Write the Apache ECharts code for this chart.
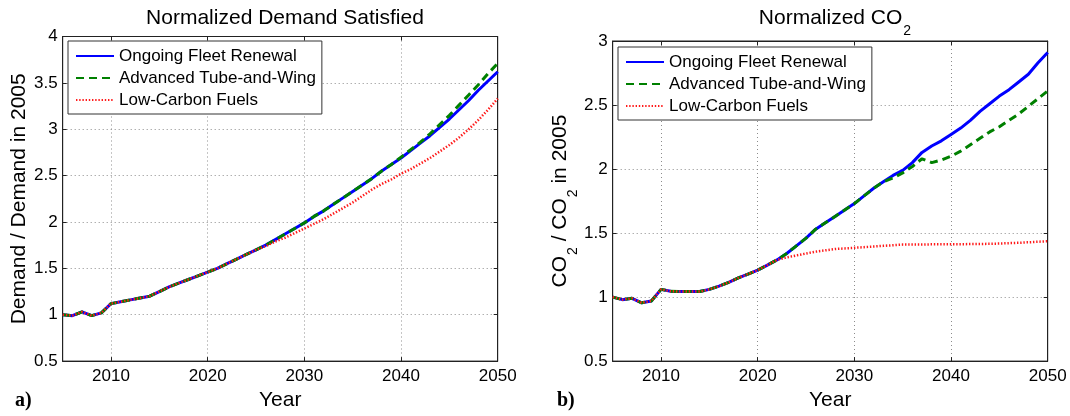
<!DOCTYPE html>
<html><head><meta charset="utf-8">
<script src="https://cdn.jsdelivr.net/npm/echarts@6/dist/echarts.min.js"></script>
<style>html,body{margin:0;padding:0;background:#fff}#c{width:1070px;height:416px}</style>
</head><body><div id="c"></div>
<script>
const years = [2005,2006,2007,2008,2009,2010,2011,2012,2013,2014,2015,2016,2017,2018,2019,2020,2021,2022,2023,2024,2025,2026,2027,2028,2029,2030,2031,2032,2033,2034,2035,2036,2037,2038,2039,2040,2041,2042,2043,2044,2045,2046,2047,2048,2049,2050];
const seriesNames = ['Ongoing Fleet Renewal', 'Advanced Tube-and-Wing', 'Low-Carbon Fuels'];

const demandOngoing = [1.00,0.99,1.03,0.99,1.02,1.12,1.14,1.16,1.18,1.20,1.25,1.30,1.34,1.38,1.42,1.46,1.50,1.55,1.60,1.65,1.70,1.75,1.81,1.87,1.93,1.99,2.06,2.12,2.19,2.26,2.33,2.40,2.47,2.55,2.62,2.69,2.77,2.85,2.93,3.02,3.11,3.21,3.31,3.42,3.52,3.62];
const demandTubeWing = [1.00,0.99,1.03,0.99,1.02,1.12,1.14,1.16,1.18,1.20,1.25,1.30,1.34,1.38,1.42,1.46,1.50,1.55,1.60,1.65,1.70,1.75,1.81,1.87,1.93,1.99,2.06,2.12,2.19,2.26,2.33,2.40,2.47,2.55,2.62,2.70,2.78,2.86,2.95,3.05,3.15,3.26,3.37,3.48,3.60,3.71];
const demandLowCarbon = [1.00,0.99,1.03,0.99,1.02,1.12,1.14,1.16,1.18,1.20,1.25,1.30,1.34,1.38,1.42,1.46,1.50,1.55,1.60,1.65,1.70,1.74,1.79,1.83,1.88,1.93,1.98,2.03,2.09,2.15,2.21,2.28,2.35,2.41,2.46,2.52,2.57,2.63,2.69,2.76,2.83,2.91,3.00,3.10,3.21,3.33];

const co2Ongoing = [1.00,0.98,0.99,0.955,0.97,1.06,1.045,1.043,1.043,1.043,1.06,1.085,1.115,1.15,1.18,1.21,1.25,1.29,1.34,1.40,1.46,1.53,1.58,1.63,1.68,1.73,1.79,1.85,1.90,1.95,1.99,2.05,2.13,2.18,2.22,2.27,2.32,2.38,2.45,2.51,2.57,2.62,2.68,2.74,2.83,2.91];
const co2TubeWing = [1.00,0.98,0.99,0.955,0.97,1.06,1.045,1.043,1.043,1.043,1.06,1.085,1.115,1.15,1.18,1.21,1.25,1.29,1.34,1.40,1.46,1.53,1.58,1.63,1.68,1.73,1.79,1.85,1.90,1.93,1.97,2.02,2.08,2.05,2.07,2.10,2.14,2.19,2.24,2.29,2.33,2.38,2.43,2.49,2.55,2.61];
const co2LowCarbon = [1.00,0.98,0.99,0.955,0.97,1.06,1.045,1.043,1.043,1.043,1.06,1.085,1.115,1.15,1.18,1.21,1.25,1.29,1.31,1.325,1.34,1.355,1.365,1.375,1.38,1.385,1.39,1.395,1.40,1.405,1.41,1.41,1.41,1.412,1.412,1.413,1.413,1.414,1.415,1.416,1.418,1.421,1.424,1.428,1.432,1.436];

const FONT = '"Liberation Sans", Arial, sans-serif';
const pairs = (vals) => years.map((y, i) => [y, vals[i]]);

const lineStyles = [
  { color: '#0000ff', width: 3, type: 'solid' },
  { color: '#008000', width: 3, type: [8, 5] },
  { color: '#ff1a1a', width: 2.5, type: [1.4, 1.8] }
];

function mkSeries(gi, arrs) {
  return arrs.map((a, k) => ({
    type: 'line', name: seriesNames[k], xAxisIndex: gi * 2, yAxisIndex: gi * 2,
    data: pairs(a), symbol: 'none', showSymbol: false, silent: true,
    lineStyle: lineStyles[k], itemStyle: { color: lineStyles[k].color }, z: 3 + k
  }));
}

function xAx(gi, main) {
  return {
    type: 'value', gridIndex: gi, min: 2005, max: 2050, splitNumber: 5,
    position: main ? 'bottom' : 'top',
    axisLine: { show: true, onZero: false, lineStyle: { color: '#222', width: 1 } },
    axisTick: { show: true, inside: true, length: 4, lineStyle: { color: '#222' } },
    axisLabel: { show: main, showMinLabel: false, fontSize: 17, color: '#000', fontFamily: FONT, margin: 7,
      formatter: (v) => String(v) },
    splitLine: { show: main, lineStyle: { color: '#8c8c8c', width: 1, type: [1, 3] } },
    name: main ? 'Year' : '', nameLocation: 'middle', nameGap: 21,
    nameTextStyle: { fontSize: 21, color: '#000', fontFamily: FONT }
  };
}
function yAx(gi, main, max, name) {
  return {
    type: 'value', gridIndex: gi, min: 0.5, max: max, interval: 0.5,
    position: main ? 'left' : 'right',
    axisLine: { show: true, onZero: false, lineStyle: { color: '#222', width: 1 } },
    axisTick: { show: true, inside: true, length: 4, lineStyle: { color: '#222' } },
    axisLabel: { show: main, fontSize: 17, color: '#000', fontFamily: FONT, margin: 5 },
    splitLine: { show: main, lineStyle: { color: '#8c8c8c', width: 1, type: [1, 3] } },
    name: main ? name : '', nameLocation: 'middle', nameGap: 30, nameRotate: 90,
    nameTextStyle: {
      fontSize: 21, color: '#000', fontFamily: FONT,
      rich: {
        b: { fontSize: 21, lineHeight: 24, verticalAlign: 'top', color: '#000', fontFamily: FONT },
        s: { fontSize: 14, lineHeight: 14, verticalAlign: 'top', padding: [16, 0, 0, 1], color: '#000', fontFamily: FONT }
      }
    }
  };
}

function mkLegend(left, top) {
  return {
    orient: 'vertical', left: left, top: top, padding: [4, 6, 3, 7], itemGap: 0,
    itemWidth: 38, itemHeight: 12, selectedMode: false,
    itemStyle: { opacity: 0, color: 'rgba(0,0,0,0)', borderWidth: 0 },
    backgroundColor: '#fff', borderColor: '#333', borderWidth: 1, borderRadius: 0,
    textStyle: { fontSize: 17, color: '#000', fontFamily: FONT, lineHeight: 22 },
    data: seriesNames
  };
}

const chart = echarts.init(document.getElementById('c'), null, { renderer: 'canvas' });
chart.setOption({
  animation: false,
  backgroundColor: '#fff',
  title: [
    { text: 'Normalized Demand Satisfied', left: 280, top: 3, textAlign: 'center',
      textStyle: { fontSize: 21, fontWeight: 'normal', color: '#000', fontFamily: FONT } },
    { text: '{b|Normalized CO}{s|2}', left: 830, top: 3, textAlign: 'center',
      textStyle: { fontSize: 21, fontWeight: 'normal', color: '#000', fontFamily: FONT,
        rich: {
          b: { fontSize: 21, lineHeight: 24, verticalAlign: 'top', color: '#000', fontFamily: FONT },
          s: { fontSize: 14, lineHeight: 14, verticalAlign: 'top', padding: [16, 0, 0, 1], color: '#000', fontFamily: FONT }
        } } }
  ],
  legend: [mkLegend(68, 41), mkLegend(618, 47)],
  grid: [
    { left: 62.7, top: 36.5, width: 435, height: 331.1, show: true, borderColor: '#222', borderWidth: 1, backgroundColor: '#fff' },
    { left: 612.7, top: 41, width: 435, height: 326.3, show: true, borderColor: '#222', borderWidth: 1, backgroundColor: '#fff' }
  ],
  xAxis: [xAx(0, true), xAx(0, false), xAx(1, true), xAx(1, false)],
  yAxis: [
    yAx(0, true, 4, 'Demand / Demand in 2005'), yAx(0, false, 4, ''),
    yAx(1, true, 3, '{b|CO}{s|2}{b| / CO}{s|2}{b| in 2005}'), yAx(1, false, 3, '')
  ],
  series: [].concat(
    mkSeries(0, [demandOngoing, demandTubeWing, demandLowCarbon]),
    mkSeries(1, [co2Ongoing, co2TubeWing, co2LowCarbon])
  ),
  graphic: [
    { type: 'text', left: 15, top: 391, style: { text: 'a)', font: 'bold 20px "Liberation Serif", serif', fill: '#000' } },
    { type: 'text', left: 557, top: 391, style: { text: 'b)', font: 'bold 20px "Liberation Serif", serif', fill: '#000' } }
  ]
});
</script></body></html>
